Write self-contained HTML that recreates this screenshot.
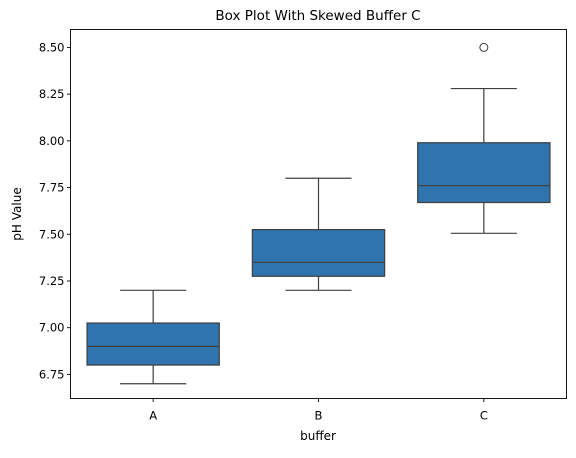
<!DOCTYPE html>
<html><head><meta charset="utf-8"><style>
body{margin:0;background:#fff;font-family:"Liberation Sans","DejaVu Sans",sans-serif;}
svg text{font-family:"DejaVu Sans","Liberation Sans",sans-serif;}
</style></head><body>
<svg id="chart" width="576" height="453" viewBox="0 0 576 453" xmlns="http://www.w3.org/2000/svg">
<text x="318" y="20" text-anchor="middle" font-size="13.5" fill="#000">Box Plot With Skewed Buffer C</text>
<g id="plot"></g>
<rect x="70.5" y="29.5" width="496" height="369" fill="none" stroke="#000" stroke-width="0.9"/>
<text x="318" y="440" text-anchor="middle" font-size="12" fill="#000">buffer</text>
<text x="21" y="214" text-anchor="middle" font-size="12" fill="#000" transform="rotate(-90 21 214)">pH Value</text>
</svg>
<script>
const categories = ["A","B","C"];
const whiskerLow = [6.70, 7.20, 7.505];
const q1 = [6.80, 7.275, 7.67];
const medians = [6.90, 7.35, 7.76];
const q3 = [7.025, 7.525, 7.99];
const whiskerHigh = [7.20, 7.80, 8.28];
const outliers = [[], [], [8.50]];
const yTicks = [6.75, 7.00, 7.25, 7.50, 7.75, 8.00, 8.25, 8.50];
const yTickLabels = ["6.75","7.00","7.25","7.50","7.75","8.00","8.25","8.50"];

const L=70.5,R=566.5,T=29.5,B=398.5;
const yMin=6.621, yMax=8.596;
const y=v=>B-(v-yMin)/(yMax-yMin)*(B-T);
const band=(R-L)/categories.length;
const x=i=>L+band*(i+0.5);
const bw=band*0.8;
const g=document.getElementById('plot');
const NS="http://www.w3.org/2000/svg";
function mk(tag,a){const e=document.createElementNS(NS,tag);for(const k in a)e.setAttribute(k,a[k]);g.appendChild(e);return e;}
const col="#3f3f3f";
yTicks.forEach((v,i)=>{
  const t=mk('line',{x1:L-3.5,x2:L,y1:y(v),y2:y(v),stroke:"#000","stroke-width":0.9});
  
  
  const l=mk('text',{x:L-6,y:y(v)+4,"text-anchor":"end","font-size":"11.5",fill:"#000"});
  l.textContent=yTickLabels[i];
  
  
});
categories.forEach((c,i)=>{
  const cx=x(i);
  const t=mk('line',{x1:cx,x2:cx,y1:B,y2:B+3.5,stroke:"#000","stroke-width":0.9});
  
  
  const l=mk('text',{x:cx,y:B+21,"text-anchor":"middle","font-size":"11.5",fill:"#000"});
  l.textContent=c;
  
  
  const w1=mk('line',{x1:cx,x2:cx,y1:y(whiskerLow[i]),y2:y(q1[i]),stroke:col,"stroke-width":1.2});
  
  
  const w2=mk('line',{x1:cx,x2:cx,y1:y(q3[i]),y2:y(whiskerHigh[i]),stroke:col,"stroke-width":1.2});
  
  
  const c1=mk('line',{x1:cx-bw/4,x2:cx+bw/4,y1:y(whiskerLow[i]),y2:y(whiskerLow[i]),stroke:col,"stroke-width":1.2});
  
  
  const c2=mk('line',{x1:cx-bw/4,x2:cx+bw/4,y1:y(whiskerHigh[i]),y2:y(whiskerHigh[i]),stroke:col,"stroke-width":1.2});
  
  
  const b=mk('rect',{x:cx-bw/2,y:y(q3[i]),width:bw,height:y(q1[i])-y(q3[i]),fill:"#2f74ac",stroke:col,"stroke-width":1.2});
  
  
  const m=mk('line',{x1:cx-bw/2,x2:cx+bw/2,y1:y(medians[i]),y2:y(medians[i]),stroke:col,"stroke-width":1.2});
  
  
  outliers[i].forEach(v=>{
    const o=mk('circle',{cx:cx,cy:y(v),r:4,fill:"none",stroke:col,"stroke-width":1});
    
    
  });
});
</script>
</body></html>
